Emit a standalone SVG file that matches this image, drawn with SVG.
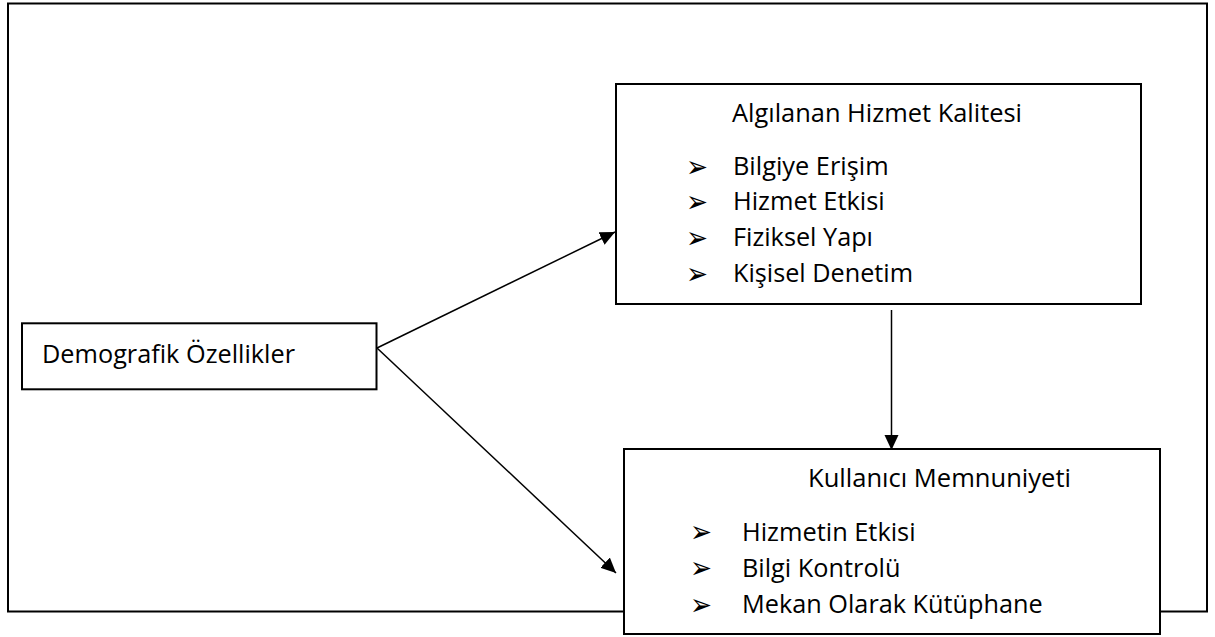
<svg xmlns="http://www.w3.org/2000/svg" width="1215" height="637" viewBox="0 0 1215 637">
<defs>
<style>
.box{fill:#fff;stroke:#000;stroke-width:2}
.t{font-family:"Open Sans","Noto Sans",sans-serif;font-size:26px;fill:#000}
.b{font-family:"DejaVu Sans",sans-serif;font-size:30px;fill:#000}
.c{stroke:#000;stroke-width:1.5;fill:none}
</style>
<marker id="ah" markerUnits="userSpaceOnUse" markerWidth="16" markerHeight="16" viewBox="0 0 16 16" refX="15" refY="8" orient="auto">
<path d="M0,1 L15,8 L0,15 Z" fill="#000"/>
</marker>
</defs>
<rect x="0" y="0" width="1215" height="637" fill="#fff"/>
<g id="frame"><rect x="8" y="3.5" width="1199" height="608" fill="none" stroke="#000" stroke-width="2"/></g>
<g id="connectors">
<line class="c" x1="377" y1="348" x2="615" y2="232" marker-end="url(#ah)"/>
<line class="c" x1="377" y1="348" x2="616" y2="573" marker-end="url(#ah)"/>
<line class="c" x1="891.5" y1="310" x2="891.5" y2="450" marker-end="url(#ah)"/>
</g>
<g id="demografik">
<rect class="box" x="22" y="323.3" width="354.5" height="66"/>
<text class="t" x="42" y="362.7" textLength="253" lengthAdjust="spacingAndGlyphs">Demografik Özellikler</text>
</g>
<g id="hizmet-kalitesi">
<rect class="box" x="616" y="84" width="525" height="220"/>
<text class="t" x="732" y="122.3" textLength="290" lengthAdjust="spacingAndGlyphs">Algılanan Hizmet Kalitesi</text>
<text class="b" x="686" y="176.5" textLength="22" lengthAdjust="spacingAndGlyphs">➢</text>
<text class="t" x="733" y="175" textLength="155.6" lengthAdjust="spacingAndGlyphs">Bilgiye Erişim</text>
<text class="b" x="686" y="211.5" textLength="22" lengthAdjust="spacingAndGlyphs">➢</text>
<text class="t" x="733" y="210" textLength="151.7" lengthAdjust="spacingAndGlyphs">Hizmet Etkisi</text>
<text class="b" x="686" y="247.5" textLength="22" lengthAdjust="spacingAndGlyphs">➢</text>
<text class="t" x="733" y="246" textLength="140" lengthAdjust="spacingAndGlyphs">Fiziksel Yapı</text>
<text class="b" x="686" y="283.5" textLength="22" lengthAdjust="spacingAndGlyphs">➢</text>
<text class="t" x="733" y="282" textLength="180" lengthAdjust="spacingAndGlyphs">Kişisel Denetim</text>
</g>
<g id="memnuniyet">
<rect class="box" x="624" y="449" width="536" height="185"/>
<text class="t" x="808" y="486.7" textLength="263" lengthAdjust="spacingAndGlyphs">Kullanıcı Memnuniyeti</text>
<text class="b" x="690" y="542.2" textLength="22" lengthAdjust="spacingAndGlyphs">➢</text>
<text class="t" x="742" y="540.7" textLength="173.6" lengthAdjust="spacingAndGlyphs">Hizmetin Etkisi</text>
<text class="b" x="690" y="578.2" textLength="22" lengthAdjust="spacingAndGlyphs">➢</text>
<text class="t" x="742" y="576.7" textLength="158.5" lengthAdjust="spacingAndGlyphs">Bilgi Kontrolü</text>
<text class="b" x="690" y="614.8" textLength="22" lengthAdjust="spacingAndGlyphs">➢</text>
<text class="t" x="742" y="613.3" textLength="300.8" lengthAdjust="spacingAndGlyphs">Mekan Olarak Kütüphane</text>
</g>
</svg>
